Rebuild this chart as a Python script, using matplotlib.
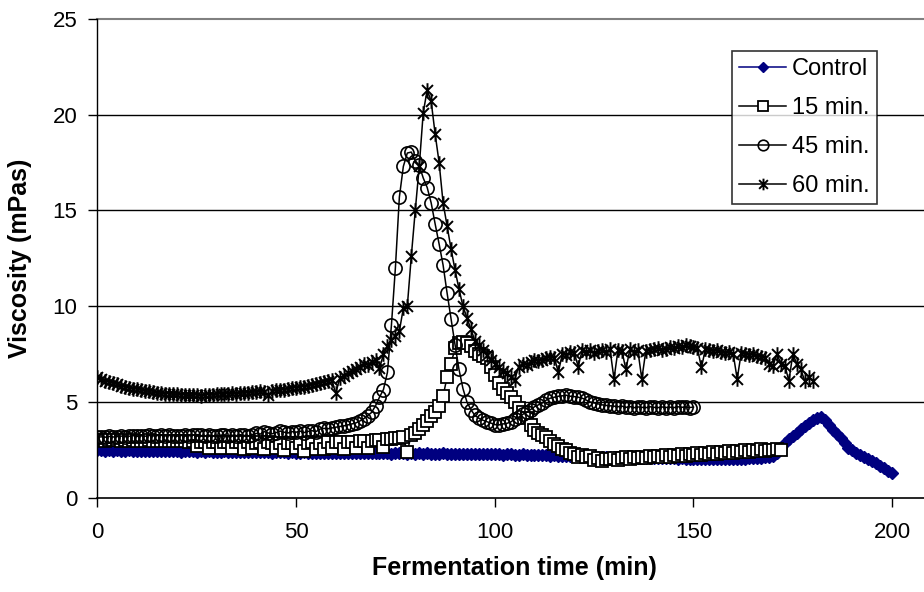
import matplotlib
matplotlib.use("Agg")
import matplotlib.pyplot as plt
import numpy as np
from matplotlib.path import Path

plt.rcParams['font.family'] = ['Liberation Sans', 'DejaVu Sans']

# viscosity readings (mPas), one reading per minute starting at t = 0
control = [
    2.50, 2.48, 2.46, 2.48, 2.45, 2.47, 2.44, 2.46, 2.47, 2.45, 2.44,
    2.46, 2.43, 2.45, 2.44, 2.42, 2.45, 2.43, 2.44, 2.42, 2.43,
    2.41, 2.43, 2.42, 2.44, 2.40, 2.42, 2.41, 2.43, 2.40, 2.41,
    2.39, 2.42, 2.40, 2.38, 2.41, 2.39, 2.40, 2.37, 2.39, 2.38,
    2.40, 2.37, 2.38, 2.36, 2.39, 2.37, 2.38, 2.35, 2.37, 2.36,
    2.35, 2.37, 2.34, 2.36, 2.35, 2.33, 2.36, 2.34, 2.35, 2.33,
    2.34, 2.32, 2.35, 2.33, 2.34, 2.32, 2.33, 2.31, 2.34, 2.32,
    2.33, 2.31, 2.32, 2.30, 2.33, 2.31, 2.32, 2.30, 2.31, 2.29,
    2.32, 2.30, 2.31, 2.29, 2.30, 2.28, 2.31, 2.29, 2.30, 2.28,
    2.29, 2.27, 2.30, 2.28, 2.29, 2.27, 2.28, 2.26, 2.29, 2.27,
    2.27, 2.25, 2.28, 2.26, 2.25, 2.24, 2.26, 2.23, 2.25, 2.22,
    2.23, 2.21, 2.22, 2.20, 2.21, 2.19, 2.20, 2.18, 2.19, 2.17,
    2.18, 2.16, 2.17, 2.15, 2.16, 2.14, 2.15, 2.13, 2.14, 2.12,
    2.13, 2.11, 2.12, 2.10, 2.11, 2.09, 2.10, 2.08, 2.09, 2.07,
    2.08, 2.06, 2.07, 2.05, 2.06, 2.04, 2.05, 2.03, 2.04, 2.02,
    2.03, 2.01, 2.02, 2.00, 2.02, 2.01, 2.03, 2.00, 2.02, 2.01,
    2.03, 2.02, 2.04, 2.05, 2.07, 2.06, 2.09, 2.11, 2.14, 2.18,
    2.35, 2.60, 2.85, 3.05, 3.20, 3.40, 3.60, 3.75, 3.90, 4.05,
    4.15, 4.20, 4.05, 3.80, 3.55, 3.35, 3.10, 2.85, 2.60, 2.50,
    2.35, 2.25, 2.15, 2.00, 1.90, 1.80, 1.65, 1.55, 1.40, 1.28,
]

min15 = [
    3.00, 3.02, 2.98, 3.01, 2.99, 3.00, 2.97, 3.00, 2.98, 2.99, 2.97,
    2.98, 2.96, 2.99, 2.97, 2.95, 2.98, 2.96, 2.97, 2.95, 2.96,
    2.94, 2.96, 2.93, 2.95, 2.70, 2.93, 2.92, 2.62, 2.91, 2.93,
    2.60, 2.90, 2.92, 2.58, 2.91, 2.89, 2.55, 2.90, 2.60, 2.88,
    2.90, 2.52, 2.89, 2.87, 2.60, 2.88, 2.50, 2.86, 2.88, 2.58,
    2.87, 2.45, 2.86, 2.89, 2.55, 2.88, 2.52, 2.90, 2.60, 2.89,
    2.92, 2.55, 2.91, 2.93, 2.62, 2.95, 2.97, 2.60, 2.98, 3.00,
    3.02, 2.65, 3.05, 3.08, 3.10, 3.12, 3.15, 2.40, 3.30, 3.40,
    3.60, 3.82, 4.02, 4.25, 4.45, 4.80, 5.30, 6.30, 7.00, 7.80,
    8.10, 8.15, 8.10, 7.90, 7.65, 7.50, 7.40, 7.30, 6.85, 6.40,
    6.00, 5.70, 5.45, 5.25, 5.00, 4.70, 4.45, 4.15, 3.80, 3.55,
    3.38, 3.25, 3.15, 2.98, 2.80, 2.68, 2.55, 2.47, 2.36, 2.28,
    2.15, 2.22, 2.10, 2.20, 1.95, 2.05, 1.90, 2.02, 2.00, 2.08,
    1.95, 2.05, 2.10, 2.00, 2.12, 2.05, 2.15, 2.08, 2.18, 2.10,
    2.20, 2.12, 2.22, 2.15, 2.25, 2.18, 2.28, 2.20, 2.30, 2.22,
    2.32, 2.25, 2.35, 2.28, 2.38, 2.30, 2.40, 2.32, 2.42, 2.35,
    2.45, 2.38, 2.47, 2.40, 2.50, 2.42, 2.52, 2.45, 2.50, 2.47,
    2.52, 2.50,
]

min45 = [
    3.15, 3.18, 3.16, 3.20, 3.17, 3.19, 3.22, 3.18, 3.21, 3.24, 3.20,
    3.23, 3.21, 3.25, 3.22, 3.24, 3.26, 3.22, 3.25, 3.23, 3.21,
    3.24, 3.27, 3.23, 3.26, 3.30, 3.25, 3.22, 3.27, 3.24, 3.20,
    3.25, 3.28, 3.22, 3.26, 3.24, 3.29, 3.25, 3.23, 3.30, 3.36,
    3.32, 3.45, 3.38, 3.34, 3.40, 3.48, 3.42, 3.38, 3.45, 3.42,
    3.48, 3.40, 3.46, 3.50, 3.45, 3.58, 3.62, 3.60, 3.64, 3.68,
    3.72, 3.75, 3.80, 3.85, 3.90, 4.00, 4.12, 4.28, 4.45, 4.80,
    5.25, 5.65, 6.55, 9.00, 12.0, 15.7, 17.3, 18.0, 18.05, 17.6,
    17.35, 16.7, 16.2, 15.4, 14.3, 13.25, 12.15, 10.7, 9.35, 8.0,
    6.7, 5.7, 5.0, 4.6, 4.3, 4.15, 4.05, 3.97, 3.90, 3.82,
    3.80, 3.85, 3.88, 3.95, 4.10, 4.20, 4.35, 4.45, 4.60, 4.75,
    4.85, 4.95, 5.10, 5.20, 5.25, 5.30, 5.32, 5.35, 5.30, 5.28,
    5.25, 5.20, 5.10, 5.00, 4.95, 4.90, 4.85, 4.82, 4.80, 4.78,
    4.75, 4.78, 4.72, 4.76, 4.70, 4.74, 4.72, 4.70, 4.75, 4.72,
    4.70, 4.74, 4.71, 4.73, 4.70, 4.75, 4.72, 4.74, 4.71, 4.73,
]

min60 = [
    6.30, 6.20, 6.12, 6.05, 5.98, 5.92, 5.85, 5.80, 5.75, 5.70, 5.66,
    5.62, 5.58, 5.55, 5.50, 5.47, 5.45, 5.43, 5.42, 5.40, 5.40,
    5.38, 5.36, 5.34, 5.35, 5.37, 5.33, 5.36, 5.38, 5.35, 5.40,
    5.42, 5.44, 5.40, 5.45, 5.43, 5.47, 5.45, 5.48, 5.50, 5.52,
    5.55, 5.50, 5.36, 5.58, 5.62, 5.60, 5.65, 5.70, 5.72, 5.75,
    5.78, 5.80, 5.85, 5.90, 5.92, 5.98, 6.05, 6.10, 6.15, 5.45,
    6.25, 6.35, 6.50, 6.60, 6.70, 6.85, 7.00, 6.95, 7.10, 7.20,
    6.75, 7.50, 7.90, 8.25, 8.45, 8.70, 9.90, 10.0, 12.6, 15.0,
    17.3, 20.1, 21.3, 20.7, 19.0, 17.5, 15.4, 14.2, 13.0, 11.9,
    10.9, 10.0, 9.4, 8.8, 8.2, 7.95, 7.7, 7.45, 7.2, 7.0,
    6.8, 6.6, 6.5, 6.3, 6.15, 6.85, 7.0, 6.95, 7.1, 7.2,
    7.15, 7.2, 7.3, 7.35, 7.3, 6.55, 7.5, 7.45, 7.6, 7.55,
    6.85, 7.7, 7.6, 7.7, 7.55, 7.65, 7.7, 7.6, 7.75, 6.2,
    7.7, 7.65, 6.7, 7.75, 7.6, 7.7, 6.2, 7.65, 7.7, 7.75,
    7.8, 7.7, 7.75, 7.85, 7.8, 7.9, 7.85, 7.95, 7.9, 7.85,
    7.8, 6.8, 7.75, 7.7, 7.65, 7.7, 7.6, 7.55, 7.6, 7.5,
    6.2, 7.55, 7.5, 7.45, 7.5, 7.4, 7.35, 7.3, 7.0, 6.9,
    7.5, 7.0, 6.9, 6.1, 7.5, 7.0, 6.7, 6.1, 6.3, 6.1,
]

labels = ['Control', '15 min.', '45 min.', '60 min.']

# Excel style star: vertical bar plus an X
star = Path([(0, -1), (0, 1), (-0.75, -0.75), (0.75, 0.75), (-0.75, 0.75), (0.75, -0.75)],
            [Path.MOVETO, Path.LINETO, Path.MOVETO, Path.LINETO, Path.MOVETO, Path.LINETO])

fig = plt.figure(figsize=(9.24, 5.92), dpi=100)
ax = fig.add_axes([97.3 / 924, 1 - 497.7 / 592, 1 - 97.3 / 924, (497.7 - 19) / 592])

ax.plot(np.arange(len(control)), control, color='#000080', lw=1.1, marker='D', ms=6.5,
        mfc='#000080', mec='#000080', label=labels[0])
ax.plot(np.arange(len(min15)), min15, color='black', lw=1.1, marker='s', ms=8.5,
        mfc='white', mec='black', mew=1.3, label=labels[1])
ax.plot(np.arange(len(min45)), min45, color='black', lw=1.1, marker='o', ms=9.5,
        mfc='none', mec='black', mew=1.2, label=labels[2])
ax.plot(np.arange(len(min60)), min60, color='black', lw=1.1, marker=star, ms=10.5,
        mec='black', mew=1.4, label=labels[3])

ax.set_xlim(0, 208)
ax.set_ylim(0, 25)
ax.set_xticks([0, 50, 100, 150, 200])
ax.set_yticks([0, 5, 10, 15, 20, 25])
for yv in [5, 10, 15, 20]:
    ax.axhline(yv, color='black', lw=1, zorder=0)
ax.axhline(25, color='#808080', lw=1.5, zorder=0, clip_on=False)

for s in ['top', 'right']:
    ax.spines[s].set_visible(False)
ax.spines['left'].set_linewidth(1)
ax.spines['bottom'].set_linewidth(1.2)
ax.tick_params(axis='both', direction='out', length=6.5, width=1, labelsize=16)
ax.tick_params(axis='x', pad=11)
ax.tick_params(axis='y', pad=8)

fig.text(514 / 924, 1 - 568 / 592, 'Fermentation time (min)', ha='center', va='center',
         fontsize=18, fontweight='bold')
fig.text(20 / 924, 1 - 258 / 592, 'Viscosity (mPas)', ha='center', va='center',
         rotation=90, fontsize=18, fontweight='bold')

leg = ax.legend(loc='upper left', bbox_to_anchor=(732 / 924, 1 - 51 / 592),
                bbox_transform=fig.transFigure, fontsize=17, frameon=True, fancybox=False,
                handlelength=2.0, handletextpad=0.25, labelspacing=0.72, borderpad=0.3,
                borderaxespad=0, markerscale=0.8)
leg.get_frame().set_edgecolor('black')
leg.get_frame().set_linewidth(1.2)

fig.savefig('out.png', dpi=100)
